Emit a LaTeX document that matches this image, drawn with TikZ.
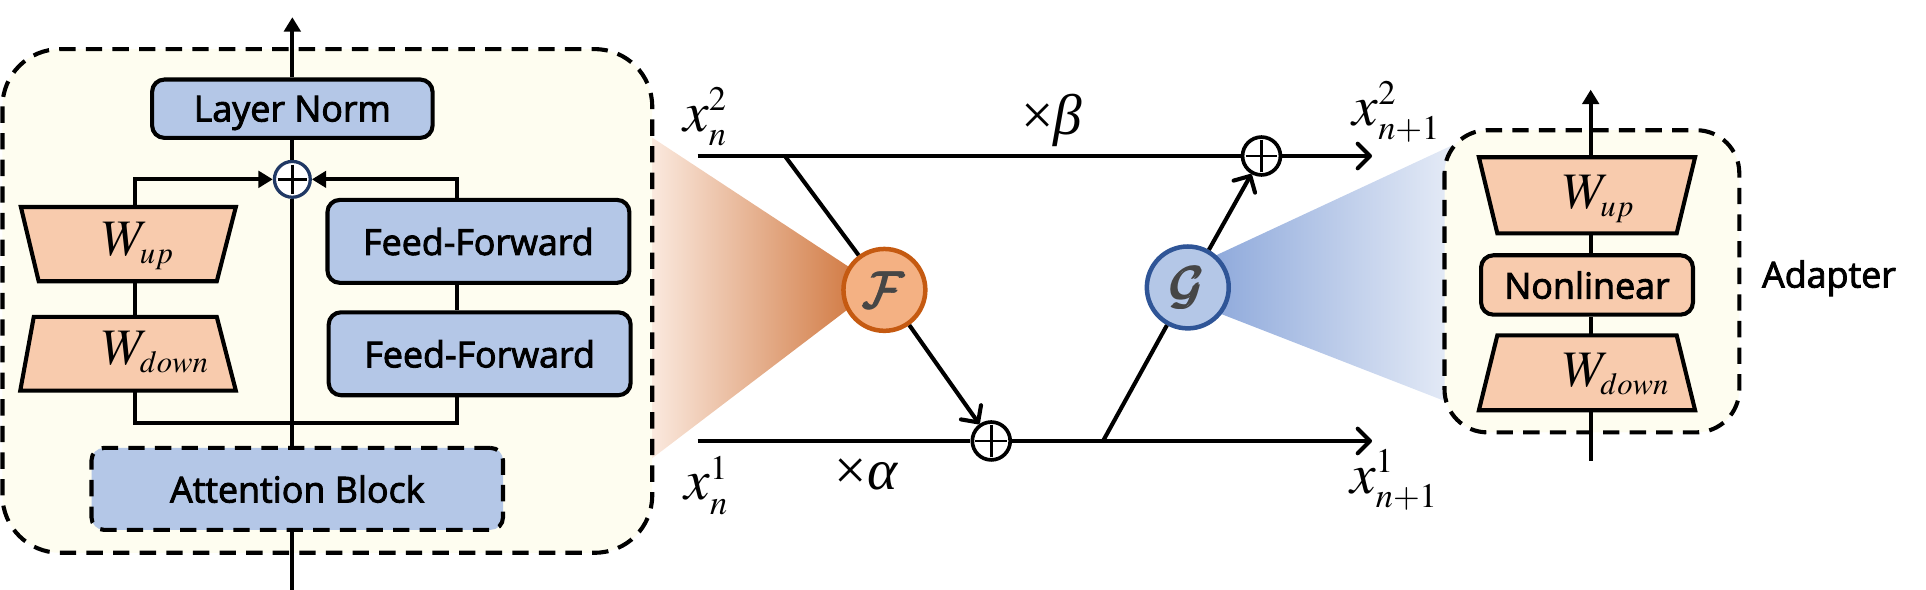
\documentclass[tikz,border=0pt]{standalone}
\usepackage{mathptmx}
\usepackage{amsbsy}
\usepackage[no-math]{fontspec}
\setmainfont{Open Sans}
\newfontfamily\bxfam{Open Sans}[FakeBold=2.5]
\newfontfamily\tnr{Liberation Serif}
\DeclareMathAlphabet{\mcal}{OMS}{lmsy}{b}{n}
\usetikzlibrary{arrows.meta}
\definecolor{bgyel}{RGB}{254,253,240}
\definecolor{bluefill}{RGB}{180,199,231}
\definecolor{orafill}{RGB}{248,203,173}
\definecolor{Ffill}{RGB}{244,177,131}
\definecolor{Fline}{RGB}{197,90,17}
\definecolor{Gline}{RGB}{47,85,151}
\definecolor{navy}{RGB}{32,56,100}
\definecolor{glyph}{RGB}{70,70,70}
\definecolor{oraL}{RGB}{253,240,232}
\definecolor{oraM}{RGB}{245,195,160}
\definecolor{oraR}{RGB}{205,110,50}
\definecolor{bluL}{RGB}{120,152,212}
\definecolor{bluM}{RGB}{168,190,229}
\definecolor{bluR}{RGB}{230,236,247}
\newcommand\bxf{\bxfam\fontsize{17.5}{21}\selectfont}
\newcommand\mxf{\fontsize{28}{30}\selectfont}
\newcommand\wxf{\fontsize{25}{28}\selectfont}
\newcommand\cxf{\fontsize{25}{26}\selectfont}
\begin{document}
\begin{tikzpicture}[x=0.6pt,y=-0.6pt,
  conn/.style={line width=2pt},
  barb/.style={-{Straight Barb[length=6pt,width=12pt,round]}},
  tri/.style={-{Triangle[length=7pt,width=8pt]}},
  bbox/.style={draw, line width=2pt, fill=bluefill, rounded corners=6pt, font=\bxf, inner sep=0pt, text depth=0pt},
  obox/.style={draw, line width=2pt, fill=orafill, rounded corners=6pt, font=\bxf, inner sep=0pt, text depth=0pt},
  dashbig/.style={draw, line width=2pt, dash pattern=on 8pt off 5pt, fill=bgyel},
  trap/.style={draw, line width=2pt, fill=orafill, line join=miter},
  plus/.style={circle, draw, fill=white, inner sep=0pt, minimum size=#1,
    path picture={\draw[line width=1.4pt,black]
      ([xshift=1.5pt]path picture bounding box.west) -- ([xshift=-1.5pt]path picture bounding box.east)
      ([yshift=-1.5pt]path picture bounding box.north) -- ([yshift=1.5pt]path picture bounding box.south);}},
  wlab/.style={font=\wxf, inner sep=0pt, anchor=base west},
  xlab/.style={font=\mxf, inner sep=0pt, anchor=base west}
]
\useasboundingbox (0,0) rectangle (1568,480);

% gradient cones
\shade[left color=oraL, middle color=oraM, right color=oraR] (520,104.8) -- (715,233) -- (520,381.4) -- cycle;
\shade[left color=bluL, middle color=bluM, right color=bluR] (936,233) -- (1184,117.5) -- (1184,329.5) -- cycle;

% container boxes
\path[dashbig, rounded corners=28pt] (2,40) rectangle (531,450);
\path[dashbig, rounded corners=21pt] (1176,106) rectangle (1416,352);

% left block
\node[bbox, minimum width=137pt, minimum height=28.5pt] (ln) at (238,88.5) {Layer Norm};
\node[plus=17.5pt, draw=navy, line width=1.6pt] (plusL) at (238,146) {};
\node[bbox, minimum width=147.5pt, minimum height=40.5pt] (ff1) at (389.5,196.5) {Feed-Forward};
\node[bbox, minimum width=147.5pt, minimum height=40.5pt] (ff2) at (390.5,288) {Feed-Forward};
\node[bbox, dash pattern=on 8pt off 5pt, minimum width=201pt, minimum height=40pt] (attn) at (242,398) {Attention Block};
\path[trap] (17,168.5) -- (192,168.5) -- (176.5,229) -- (31.5,229) -- cycle;
\path[trap] (27.5,258) -- (176.5,258) -- (192,318) -- (16.5,318) -- cycle;
\node[wlab] (twu) at (83,208) {$W_{\scriptscriptstyle up}$};
\node[wlab] (twd) at (83,297) {$W_{\scriptscriptstyle down}$};

\coordinate (inL) at (238,480);
\coordinate (outL) at (238,14);
\coordinate (wuT) at (110,168.5);
\coordinate (wuB) at (110,229);
\coordinate (wdT) at (110,258);
\coordinate (wdB) at (110,318);
\coordinate (lp) at (110,344.5);
\coordinate (rx) at (372,300);

\draw[conn] (inL) -- (inL |- attn.south);
\draw[conn] (plusL |- attn.north) -- (plusL);
\draw[conn] (plusL) -- (ln);
\draw[conn,tri] (ln) -- (outL);
\draw[conn,tri] (wuT) |- (plusL.west);
\draw[conn,tri] (ff1.north -| rx) |- (plusL.east);
\draw[conn] (wuB) -- (wdT);
\draw[conn] (ff1.south -| rx) -- (ff2.north -| rx);
\draw[conn] (wdB) -- (lp) -| (ff2.south -| rx);

% middle
\coordinate (x2in) at (568,127);
\coordinate (x2out) at (1117,127);
\coordinate (x1in) at (568,359);
\coordinate (x1out) at (1117,359);
\coordinate (br1) at (639,127);
\coordinate (br2) at (898,359);
\node[plus=18.5pt, line width=1.8pt] (plusT) at (1027,127) {};
\node[plus=18.5pt, line width=1.8pt] (plusB) at (807,359) {};
\node[circle, draw=Fline, fill=Ffill, line width=2.2pt, minimum size=40pt, inner sep=0pt, font=\cxf, text=glyph] (F) at (720,236) {$\pmb{\mcal{F}}$};
\node[circle, draw=Gline, fill=bluefill, line width=2.2pt, minimum size=40pt, inner sep=0pt, font=\cxf, text=glyph] (G) at (967,234) {$\pmb{\mcal{G}}$};

\draw[conn] (x2in) -- (plusT);
\draw[conn,barb] (plusT) -- (x2out);
\draw[conn] (x1in) -- (plusB);
\draw[conn,barb] (plusB) -- (x1out);
\draw[conn] (br1) -- (F);
\draw[conn,barb] (F) -- (plusB);
\draw[conn] (br2) -- (G);
\draw[conn,barb] (G) -- (plusT);

\node[xlab] (lx2n) at (556,107) {$x_{\scriptscriptstyle n}^{\scriptscriptstyle 2}$};
\node[xlab] (lx1n) at (557,407) {$x_{\scriptscriptstyle n}^{\scriptscriptstyle 1}$};
\node[xlab] (lx2o) at (1101,102) {$x_{\scriptscriptstyle n+1}^{\scriptscriptstyle 2}$};
\node[xlab] (lx1o) at (1099,402) {$x_{\scriptscriptstyle n+1}^{\scriptscriptstyle 1}$};
\node[font=\tnr\fontsize{28}{30}\selectfont, inner sep=0pt] (beta) at (856,98) {×{\itshape β}};
\node[font=\tnr\fontsize{28}{30}\selectfont, inner sep=0pt] (alpha) at (705,386) {×{\itshape α}};

% adapter
\path[trap] (1204,128) -- (1380,128) -- (1365,190) -- (1219,190) -- cycle;
\path[trap] (1219,273) -- (1365,273) -- (1380,334) -- (1204,334) -- cycle;
\node[obox, minimum width=103.5pt, minimum height=29pt] (nl) at (1292,232) {Nonlinear};
\node[wlab] (awu) at (1272,170) {$W_{\scriptscriptstyle up}$};
\node[wlab] (awd) at (1272,315) {$W_{\scriptscriptstyle down}$};
\node[font=\bxf, inner sep=0pt, text depth=0pt] (adl) at (1489,223) {Adapter};

\coordinate (ainB) at (1295,375);
\coordinate (aoutT) at (1295,73);
\coordinate (awuT) at (1295,128);
\coordinate (awuB) at (1295,190);
\coordinate (awdT) at (1295,273);
\coordinate (awdB) at (1295,334);
\draw[conn] (ainB) -- (awdB);
\draw[conn] (awdT) -- (awdT |- nl.south);
\draw[conn] (awuB |- nl.north) -- (awuB);
\draw[conn,tri] (awuT) -- (aoutT);
\end{tikzpicture}
\end{document}
